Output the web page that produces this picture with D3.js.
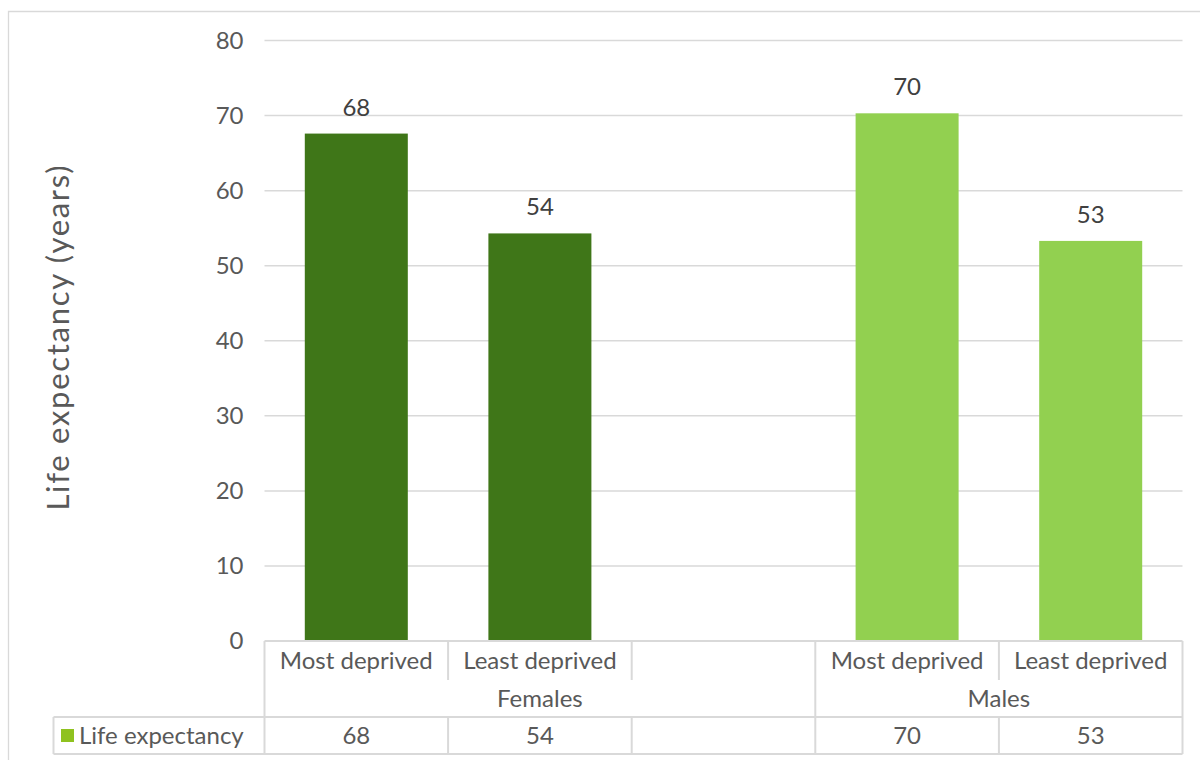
<!DOCTYPE html>
<html>
<head>
<meta charset="utf-8">
<script src="https://cdn.jsdelivr.net/npm/d3@7"></script>
<style>
  html, body { margin: 0; padding: 0; background: #fff; }
  svg { display: block; font-family: Lato, "Open Sans", sans-serif; }
</style>
</head>
<body>
<svg id="chart" width="1200" height="760"></svg>
<script>
// ---- data ----
const categories = ["Most deprived", "Least deprived", "", "Most deprived", "Least deprived"];
const groups = ["Females", "Females", "Females", "Males", "Males"];
const groupNames = ["Females", "Males"];
const values = [67.6, 54.3, null, 70.3, 53.3];
const labels = ["68", "54", "", "70", "53"];
const yTicks = [0, 10, 20, 30, 40, 50, 60, 70, 80];
const seriesName = "Life expectancy";
const yTitle = "Life expectancy (years)";
const groupColors = { Females: "#3f7618", Males: "#92d050" };
const legendColor = "#8fc21f";

// ---- layout ----
const svg = d3.select("#chart");
const plotLeft = 264.5, plotRight = 1182.5, plotTop = 40.5, plotBottom = 641;
const row1 = 680, row2 = 717, row3 = 754, legendLeft = 53.5;
const gridColor = "#d9d9d9", textColor = "#595959";

// outer frame
svg.append("path")
  .attr("d", `M8.5,770 V11.5 H1210`)
  .attr("fill", "none").attr("stroke", gridColor).attr("stroke-width", 1.3);

const x = d3.scaleBand().domain(d3.range(categories.length)).range([plotLeft, plotRight]).padding(0);
const y = d3.scaleLinear().domain([0, 80]).range([plotBottom, plotTop]);

// gridlines
svg.append("g").selectAll("line").data(yTicks.filter(d => d > 0)).join("line")
  .attr("x1", plotLeft).attr("x2", plotRight)
  .attr("y1", d => y(d)).attr("y2", d => y(d))
  .attr("stroke", gridColor).attr("stroke-width", 1.5);

// y axis via d3.axisLeft (styled)
const yAxis = svg.append("g").attr("transform", `translate(${plotLeft - 21},0)`)
  .call(d3.axisLeft(y).tickValues(yTicks).tickSize(0).tickPadding(0));
yAxis.select(".domain").remove();
yAxis.selectAll("text")
  .attr("fill", textColor).style("font-size", "24px").style("font-family", "Lato, sans-serif")
  .attr("dy", "0.33em");

// y title
svg.append("text")
  .attr("transform", `translate(69,338) rotate(-90)`)
  .attr("text-anchor", "middle")
  .attr("fill", textColor)
  .attr("textLength", 345)
  .attr("lengthAdjust", "spacing")
  .style("font-size", "31px")
  .text(yTitle);

// bars
const barW = x.bandwidth() * 0.561;
const data = categories.map((c, i) => ({ i, c, g: groups[i], v: values[i], l: labels[i] }));
svg.append("g").selectAll("rect").data(data.filter(d => d.v != null)).join("rect")
  .attr("x", d => x(d.i) + (x.bandwidth() - barW) / 2)
  .attr("width", barW)
  .attr("y", d => y(d.v))
  .attr("height", d => y(0) - y(d.v))
  .attr("fill", d => groupColors[d.g]);

// data labels
svg.append("g").selectAll("text").data(data.filter(d => d.v != null)).join("text")
  .attr("x", d => x(d.i) + x.bandwidth() / 2)
  .attr("y", d => y(d.v) - 18)
  .attr("text-anchor", "middle")
  .attr("fill", "#404040")
  .style("font-size", "24px")
  .text(d => d.l);

// ---- data table ----
const tbl = svg.append("g").attr("stroke", gridColor).attr("stroke-width", 2).attr("fill", "none");
const hline = (x1, x2, yy) => tbl.append("line").attr("x1", x1).attr("x2", x2).attr("y1", yy).attr("y2", yy);
const vline = (xx, y1, y2) => tbl.append("line").attr("x1", xx).attr("x2", xx).attr("y1", y1).attr("y2", y2);
hline(plotLeft, plotRight, plotBottom);
hline(legendLeft, plotRight, row2);
hline(legendLeft, plotRight, row3);
vline(legendLeft, row2, row3);
vline(plotLeft, plotBottom, row3);
vline(plotRight, plotBottom, row3);
// inner column dividers
d3.range(1, categories.length).forEach(i => {
  const xx = x(i);
  if (groups[i] !== groups[i - 1]) {
    vline(xx, plotBottom, row3);
  } else {
    vline(xx, plotBottom, row1);
    vline(xx, row2, row3);
  }
});

// category labels
svg.append("g").selectAll("text").data(data).join("text")
  .attr("x", d => x(d.i) + x.bandwidth() / 2)
  .attr("y", (plotBottom + row1) / 2)
  .attr("dy", "0.35em")
  .attr("text-anchor", "middle")
  .attr("fill", textColor)
  .style("font-size", "24px")
  .text(d => d.c);

// group labels
const groupExtent = groupNames.map(g => {
  const idx = data.filter(d => d.g === g).map(d => d.i);
  return { g, x0: x(d3.min(idx)), x1: x(d3.max(idx)) + x.bandwidth() };
});
svg.append("g").selectAll("text").data(groupExtent).join("text")
  .attr("x", d => (d.x0 + d.x1) / 2)
  .attr("y", (row1 + row2) / 2)
  .attr("dy", "0.35em")
  .attr("text-anchor", "middle")
  .attr("fill", textColor)
  .style("font-size", "24px")
  .text(d => d.g);

// values row
svg.append("g").selectAll("text").data(data).join("text")
  .attr("x", d => x(d.i) + x.bandwidth() / 2)
  .attr("y", (row2 + row3) / 2)
  .attr("dy", "0.35em")
  .attr("text-anchor", "middle")
  .attr("fill", textColor)
  .style("font-size", "24px")
  .text(d => d.l);

// legend key
svg.append("rect").attr("x", 61).attr("y", 729).attr("width", 13).attr("height", 13).attr("fill", legendColor);
svg.append("text").attr("x", 79).attr("y", (row2 + row3) / 2).attr("dy", "0.35em")
  .attr("fill", textColor).style("font-size", "24px").text(seriesName);
</script>
</body>
</html>
